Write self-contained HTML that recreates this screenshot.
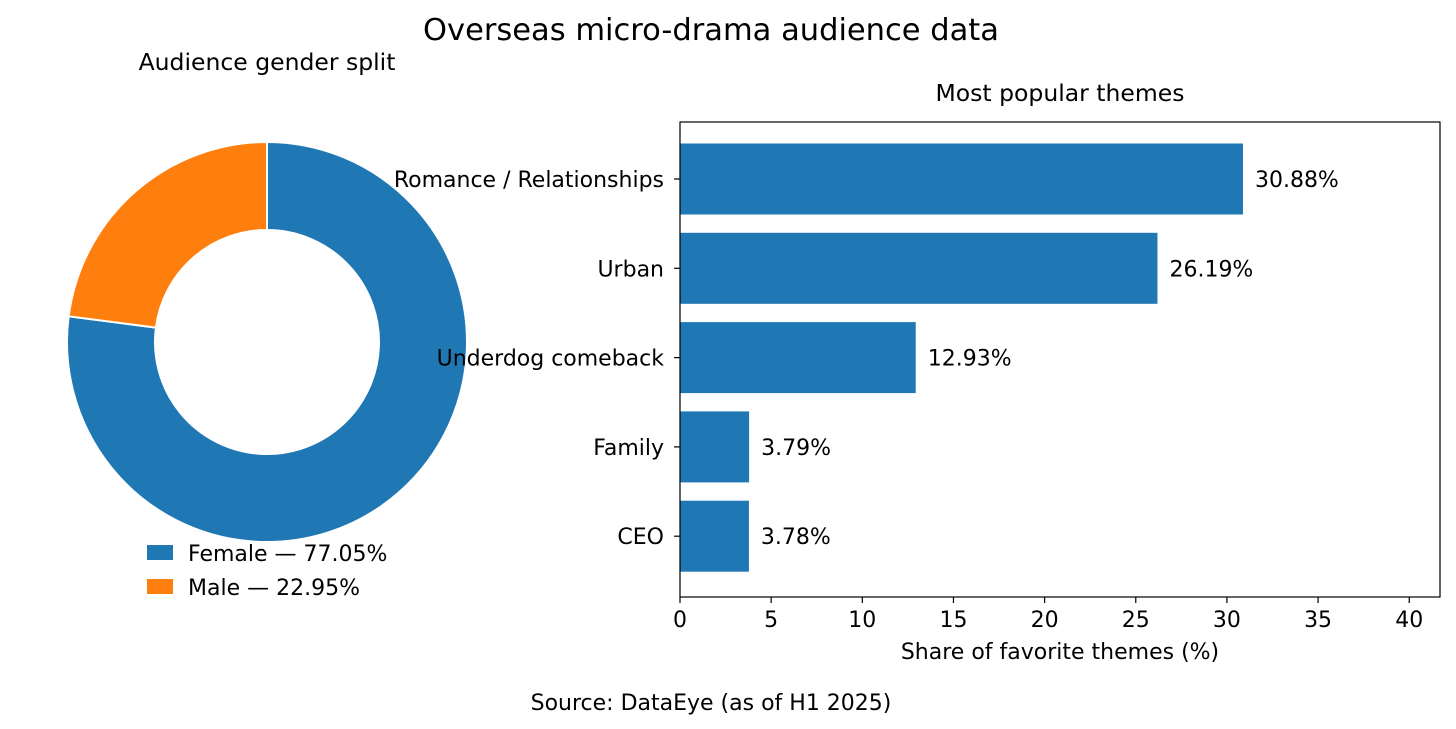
<!DOCTYPE html>
<html><head><meta charset="utf-8"><style>
html,body{margin:0;padding:0;background:#fff}
svg{display:block;font-family:"DejaVu Sans","Liberation Sans",sans-serif}
</style></head><body>
<svg id="chart" width="1456" height="729" viewBox="0 0 1456 729">
<text x="711" y="40" font-size="30.5" text-anchor="middle" fill="#000">Overseas micro-drama audience data</text>
<text x="267" y="70" font-size="23.5" text-anchor="middle">Audience gender split</text>
<text x="1060" y="101" font-size="23.5" text-anchor="middle">Most popular themes</text>
<g id="donut"></g>
<g id="legend"></g>
<g id="bars"></g>
<text x="1060" y="659" font-size="22" text-anchor="middle">Share of favorite themes (%)</text>
<text x="711" y="710" font-size="22" text-anchor="middle">Source: DataEye (as of H1 2025)</text>
</svg>
<script>
const genderLabels = ["Female", "Male"];
const genderValues = [77.05, 22.95];
const themeCategories = ["Romance / Relationships", "Urban", "Underdog comeback", "Family", "CEO"];
const themeValues = [30.88, 26.19, 12.93, 3.79, 3.78];
const xTicks = [0, 5, 10, 15, 20, 25, 30, 35, 40];
const colors = ["#1f77b4", "#ff7f0e"];
const NS = "http://www.w3.org/2000/svg";
function mk(tag, attrs, parent){const e=document.createElementNS(NS,tag);for(const k in attrs)e.setAttribute(k,attrs[k]);parent.appendChild(e);return e;}

const donut = document.getElementById("donut");
const cx=267, cy=342, R=200, r=112;
const total = genderValues.reduce((a,b)=>a+b,0);
let ang = 90;
function pt(a,rad){const t=a*Math.PI/180;return [cx+rad*Math.cos(t), cy-rad*Math.sin(t)];}
genderValues.forEach((v,i)=>{
  const sweep = v/total*360;
  const a0=ang, a1=ang-sweep;
  const large = sweep>180?1:0;
  const p0=pt(a0,R), p1=pt(a1,R), q1=pt(a1,r), q0=pt(a0,r);
  const d=`M${p0[0]},${p0[1]} A${R},${R} 0 ${large} 1 ${p1[0]},${p1[1]} L${q1[0]},${q1[1]} A${r},${r} 0 ${large} 0 ${q0[0]},${q0[1]} Z`;
  const p=mk("path",{d:d,fill:colors[i],stroke:"#fff","stroke-width":2},donut);
  
  
  ang=a1;
});
const leg=document.getElementById("legend");
genderLabels.forEach((l,i)=>{
  const y=545+i*34;
  const rc=mk("rect",{x:147,y:y,width:26,height:15,fill:colors[i]},leg);
  
  
  const t=mk("text",{x:188,y:y+16,"font-size":22},leg);
  t.textContent=l+" — "+genderValues[i].toFixed(2)+"%";
  
  
});

const g=document.getElementById("bars");
const ax0=680, ax1=1440, ay0=122, ay1=597;
const xmax=Math.max(...themeValues)*1.35;
const xs=v=>ax0+(v/xmax)*(ax1-ax0);
const step=89.3, firstC=179;
const yc=i=>firstC+i*step;
themeCategories.forEach((c,i)=>{
  const v=themeValues[i];
  const b=mk("rect",{x:xs(0),y:yc(i)-35.5,width:xs(v)-xs(0),height:71,fill:"#1f77b4"},g);
  
  
  const vl=mk("text",{x:xs(v)+12,y:yc(i)+8,"font-size":22},g);
  vl.textContent=v.toFixed(2)+"%";
  
  
  mk("line",{x1:ax0-6,x2:ax0,y1:yc(i),y2:yc(i),stroke:"#000","stroke-width":1.2},g);
  const cl=mk("text",{x:ax0-16,y:yc(i)+8,"font-size":22,"text-anchor":"end"},g);
  cl.textContent=c;
  
  
});
const frame=mk("rect",{x:ax0,y:ay0,width:ax1-ax0,height:ay1-ay0,fill:"none",stroke:"#000","stroke-width":1.2},g);


xTicks.forEach(t=>{
  mk("line",{x1:xs(t),x2:xs(t),y1:ay1,y2:ay1+6,stroke:"#000","stroke-width":1.2},g);
  const tl=mk("text",{x:xs(t),y:ay1+30,"font-size":22,"text-anchor":"middle"},g);
  tl.textContent=t;
  
  
});
</script>
</body></html>
